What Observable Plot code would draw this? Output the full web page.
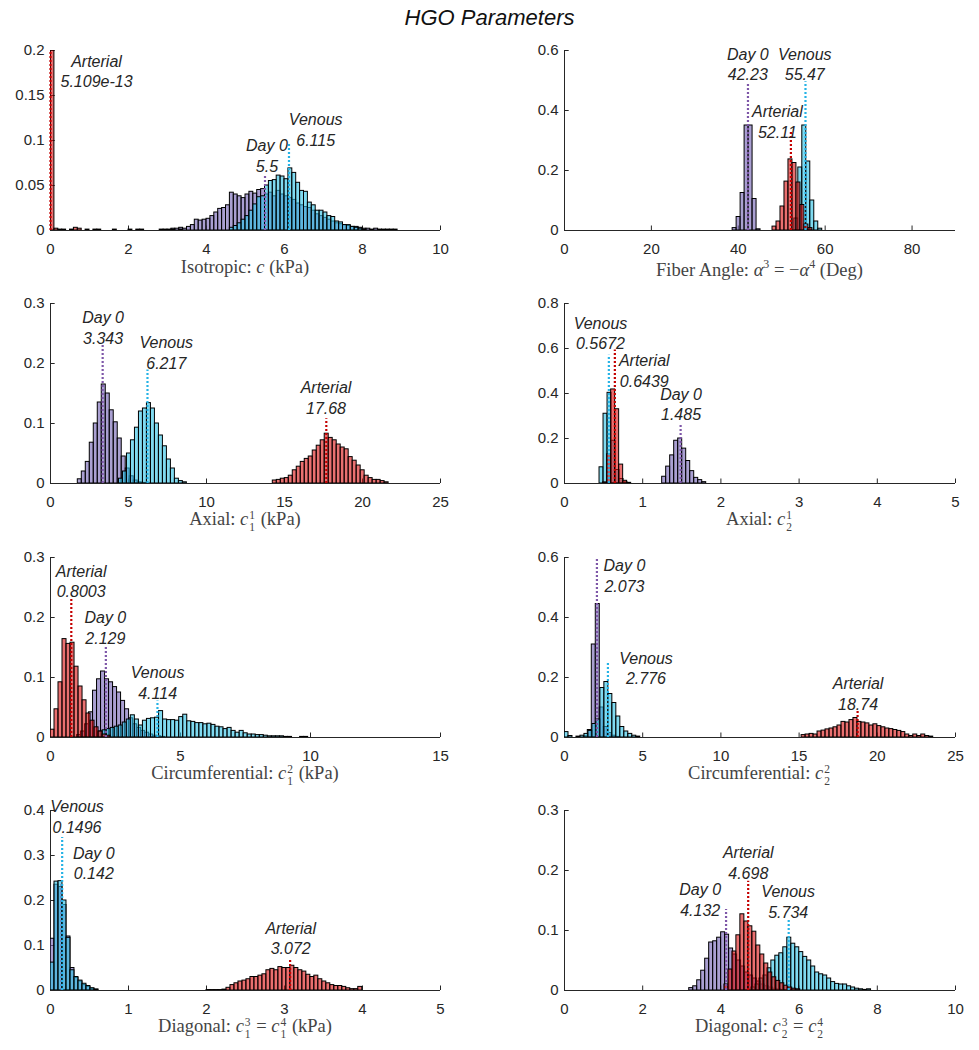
<!DOCTYPE html>
<html><head><meta charset="utf-8">
<script src="https://cdn.jsdelivr.net/npm/d3@7"></script>
<script src="https://cdn.jsdelivr.net/npm/@observablehq/plot@0.6"></script>
<style>
body{margin:0;background:#fff;}
#wrap{position:relative;width:979px;height:1050px;overflow:hidden;background:#fff;}
.title{position:absolute;left:0;width:979px;top:5px;line-height:26px;text-align:center;font:italic 22px "Liberation Sans",Arial,sans-serif;color:#111;}
.panel{position:absolute;}
.xlab{position:absolute;transform:translate(-50%,-50%);font-family:"Liberation Serif","DejaVu Serif",serif;font-size:18.5px;line-height:22px;color:#444;white-space:nowrap;}
.ss{display:inline-flex;flex-direction:column;align-items:flex-start;font-size:11.5px;line-height:12px;vertical-align:6px;margin-left:1px;margin-right:1px;}
.ss span{display:block;height:12px;}
</style></head><body>
<div id="wrap"><div class="title">HGO Parameters</div></div>
<script>
// ---------- DATA (heights = probability per bin; edge = [first bin edge, bin width]) ----------
const seriesKeys = ["day0", "venous", "arterial"];
const seriesNames = ["Day 0", "Venous", "Arterial"];

// Panel 1: Isotropic c
const isoDay0 = [0.001,0.001,0.002,0.002,0.003,0.002,0.004,0.006,0.012,0.011,0.012,0.013,0.016,0.020,0.024,0.025,0.028,0.042,0.040,0.038,0.036,0.040,0.043,0.041,0.045,0.046,0.040,0.042,0.038,0.044,0.040,0.038,0.036,0.034,0.030,0.028,0.026,0.025,0.022,0.018,0.016,0.014,0.012,0.010,0.008,0.007,0.006,0.005,0.004,0.004,0.003,0.002,0.002,0.001,0.002,0.001,0.001,0.001,0.001,0.001];
const isoDay0Edge = [2.9, 0.1];
const isoVenous = [0.003,0.005,0.008,0.012,0.016,0.022,0.029,0.037,0.038,0.050,0.055,0.056,0.061,0.060,0.057,0.069,0.064,0.053,0.044,0.043,0.031,0.028,0.022,0.022,0.020,0.016,0.015,0.010,0.009,0.006,0.006,0.004,0.003,0.002,0.001];
const isoVenousEdge = [4.6, 0.1];
const isoArterial = [0.2,0.002,0.001,0.001,0,0.001,0.003,0.002,0,0.001,0,0.001,0.001,0,0,0,0.001,0,0,0,0.001,0,0.001,0.001,0,0,0,0,0.001,0,0,0.001,0,0.001];
const isoArterialEdge = [0, 0.1];
const isoMedian = [5.5, 6.115, 5.109e-13];
const isoXTicks = [0, 2, 4, 6, 8, 10];
const isoYTicks = [0, 0.05, 0.1, 0.15, 0.2];

// Panel 2: Fiber angle
const fibDay0 = [0.008,0.045,0.125,0.35,0.35,0.105,0.004];
const fibDay0Edge = [38.7, 0.918];
const fibVenous = [0.04,0.21,0.35,0.23,0.10,0.03,0.006];
const fibVenousEdge = [52.9, 0.918];
const fibArterial = [0.013,0.03,0.08,0.163,0.237,0.225,0.16,0.085,0.02,0.008];
const fibArterialEdge = [47.88, 0.918];
const fibMedian = [42.23, 55.47, 52.11];
const fibXTicks = [0, 20, 40, 60, 80];
const fibYTicks = [0, 0.2, 0.4, 0.6];

// Panel 3: Axial c1^1
const ax1Day0 = [0.007,0.020,0.036,0.068,0.100,0.135,0.165,0.150,0.122,0.102,0.075,0.045,0.025,0.012,0.005,0.002,0.001];
const ax1Day0Edge = [1.75, 0.256];
const ax1Venous = [0.008,0.02,0.05,0.072,0.093,0.12,0.125,0.134,0.125,0.1,0.08,0.062,0.04,0.025,0.008,0.004,0.002];
const ax1VenousEdge = [4.39, 0.256];
const ax1Arterial = [0.005,0.006,0.008,0.009,0.013,0.022,0.028,0.036,0.041,0.045,0.055,0.063,0.072,0.083,0.076,0.072,0.065,0.060,0.057,0.044,0.038,0.030,0.022,0.013,0.009,0.006,0.006,0.004,0.002];
const ax1ArterialEdge = [14.25, 0.256];
const ax1Median = [3.343, 6.217, 17.68];
const ax1XTicks = [0, 5, 10, 15, 20, 25];
const ax1YTicks = [0, 0.1, 0.2, 0.3];

// Panel 4: Axial c2^1
const ax2Day0 = [0.03,0.075,0.125,0.19,0.2,0.155,0.1,0.055,0.025,0.015,0.006];
const ax2Day0Edge = [1.249, 0.0512];
const ax2Venous = [0.072,0.31,0.403,0.19,0.06,0.02,0.005];
const ax2VenousEdge = [0.448, 0.0512];
const ax2Arterial = [0.005,0.13,0.418,0.33,0.084,0.012,0.003];
const ax2ArterialEdge = [0.494, 0.0512];
const ax2Median = [1.485, 0.5672, 0.6439];
const ax2XTicks = [0, 1, 2, 3, 4, 5];
const ax2YTicks = [0, 0.2, 0.4, 0.6, 0.8];

// Panel 5: Circumferential c1^2
const cir1Day0 = [0.004,0.01,0.022,0.042,0.078,0.097,0.110,0.097,0.092,0.084,0.075,0.061,0.047,0.032,0.022,0.016,0.011,0.008,0.005,0.003,0.002,0.001];
const cir1Day0Edge = [1.02, 0.154];
const cir1Venous = [0.010,0.012,0.014,0.016,0.018,0.020,0.025,0.030,0.037,0.030,0.020,0.028,0.031,0.032,0.033,0.044,0.030,0.029,0.029,0.028,0.034,0.038,0.027,0.026,0.024,0.024,0.022,0.023,0.021,0.018,0.017,0.014,0.016,0.011,0.008,0.011,0.007,0.005,0.005,0.004,0.004,0.003,0.002,0.002,0.002,0.002,0.001,0.001,0,0,0.001,0.001];
const cir1VenousEdge = [1.85, 0.155];
const cir1Arterial = [0.013,0.047,0.092,0.164,0.156,0.158,0.118,0.085,0.062,0.04,0.028,0.017,0.01,0.005,0.003];
const cir1ArterialEdge = [0, 0.154];
const cir1Median = [2.129, 4.114, 0.8003];
const cir1XTicks = [0, 5, 10, 15];
const cir1YTicks = [0, 0.1, 0.2, 0.3];

// Panel 6: Circumferential c2^2
const cir2Day0 = [0.004,0.025,0.31,0.445,0.1,0.035,0.015,0.006,0.002];
const cir2Day0Edge = [1.235, 0.255];
const cir2Venous = [0.018,0.005,0,0.003,0.006,0.012,0.022,0.045,0.06,0.165,0.185,0.145,0.115,0.07,0.035,0.02,0.012,0.006,0.003];
const cir2VenousEdge = [0, 0.2549];
const cir2Arterial = [0.008,0.01,0.012,0.01,0.02,0.023,0.027,0.03,0.034,0.04,0.052,0.05,0.058,0.065,0.052,0.05,0.047,0.04,0.044,0.038,0.034,0.03,0.028,0.025,0.022,0.018,0.01,0.005,0.01,0.005,0.01,0.005,0.003];
const cir2ArterialEdge = [15.16, 0.255];
const cir2Median = [2.073, 2.776, 18.74];
const cir2XTicks = [0, 5, 10, 15, 20, 25];
const cir2YTicks = [0, 0.2, 0.4, 0.6];

// Panel 7: Diagonal c1^3 = c1^4
const dia1Day0 = [0.115,0.235,0.23,0.19,0.12,0.05,0.028,0.02,0.012,0.008,0.004,0.002];
const dia1Day0Edge = [0, 0.0512];
const dia1Venous = [0.062,0.242,0.243,0.2,0.117,0.045,0.03,0.022,0.015,0.01,0.005,0.002];
const dia1VenousEdge = [0, 0.0512];
const dia1Arterial = [0.001,0.001,0.001,0.001,0.002,0.006,0.012,0.016,0.02,0.022,0.025,0.03,0.03,0.033,0.036,0.045,0.048,0.045,0.052,0.05,0.05,0.055,0.05,0.045,0.042,0.035,0.03,0.033,0.025,0.02,0.016,0.012,0.01,0.01,0.008,0.005,0.003,0.003,0.008];
const dia1ArterialEdge = [2.0, 0.0512];
const dia1Median = [0.142, 0.1496, 3.072];
const dia1XTicks = [0, 1, 2, 3, 4, 5];
const dia1YTicks = [0, 0.1, 0.2, 0.3, 0.4];

// Panel 8: Diagonal c2^3 = c2^4
const dia2Day0 = [0.004,0.007,0.017,0.033,0.053,0.08,0.082,0.088,0.097,0.093,0.07,0.06,0.05,0.04,0.03,0.025,0.02,0.015,0.01,0.007,0.005,0.003,0.002,0.001];
const dia2Day0Edge = [3.19, 0.102];
const dia2Venous = [0.005,0.01,0.02,0.025,0.037,0.05,0.058,0.062,0.072,0.088,0.078,0.072,0.064,0.056,0.05,0.04,0.03,0.027,0.025,0.02,0.014,0.011,0.01,0.01,0.007,0.005,0.003,0.002,0.001,0.002];
const dia2VenousEdge = [4.78, 0.102];
const dia2Arterial = [0.01,0.035,0.065,0.092,0.127,0.115,0.107,0.098,0.075,0.06,0.045,0.03,0.022,0.016,0.012,0.008,0.005,0.003,0.002];
const dia2ArterialEdge = [4.09, 0.102];
const dia2Median = [4.132, 5.734, 4.698];
const dia2XTicks = [0, 2, 4, 6, 8, 10];
const dia2YTicks = [0, 0.1, 0.2, 0.3];

// ---------- LAYOUT / ANNOTATION (order: Day 0, Venous, Arterial) ----------
const ss = (sup, sub) => `<span class="ss"><span>${sup}</span><span>${sub}</span></span>`;
const panels = [
  {row:0,col:0,x:[0,10],y:[0,0.2],xt:isoXTicks,yt:isoYTicks,h:[isoDay0,isoVenous,isoArterial],e:[isoDay0Edge,isoVenousEdge,isoArterialEdge],m:isoMedian,
   top:[0.06,0.096,0.2],lx:[5.55,6.8,1.18],ly:[0.084,0.113,0.178],lab:`Isotropic: <i>c</i> (kPa)`},
  {row:0,col:1,x:[0,90],y:[0,0.6],xt:fibXTicks,yt:fibYTicks,h:[fibDay0,fibVenous,fibArterial],e:[fibDay0Edge,fibVenousEdge,fibArterialEdge],m:fibMedian,
   top:[0.493,0.496,0.332],lx:[42.2,55.3,49.0],ly:[0.557,0.557,0.366],lab:`Fiber Angle: <i>α</i><sup style="font-size:12px">3</sup> = −<i>α</i><sup style="font-size:12px">4</sup> (Deg)`},
  {row:1,col:0,x:[0,25],y:[0,0.3],xt:ax1XTicks,yt:ax1YTicks,h:[ax1Day0,ax1Venous,ax1Arterial],e:[ax1Day0Edge,ax1VenousEdge,ax1ArterialEdge],m:ax1Median,
   top:[0.23,0.189,0.108],lx:[3.37,7.42,17.66],ly:[0.261,0.22,0.144],lab:`Axial: <i>c</i>${ss(1,1)} (kPa)`},
  {row:1,col:1,x:[0,5],y:[0,0.8],xt:ax2XTicks,yt:ax2YTicks,h:[ax2Day0,ax2Venous,ax2Arterial],e:[ax2Day0Edge,ax2VenousEdge,ax2ArterialEdge],m:ax2Median,
   top:[0.267,0.57,0.593],lx:[1.49,0.46,1.02],ly:[0.356,0.672,0.505],lab:`Axial: <i>c</i>${ss(1,2)}`},
  {row:2,col:0,x:[0,15],y:[0,0.3],xt:cir1XTicks,yt:cir1YTicks,h:[cir1Day0,cir1Venous,cir1Arterial],e:[cir1Day0Edge,cir1VenousEdge,cir1ArterialEdge],m:cir1Median,
   top:[0.151,0.061,0.233],lx:[2.11,4.12,1.18],ly:[0.184,0.093,0.262],lab:`Circumferential: <i>c</i>${ss(2,1)} (kPa)`},
  {row:2,col:1,x:[0,25],y:[0,0.6],xt:cir2XTicks,yt:cir2YTicks,h:[cir2Day0,cir2Venous,cir2Arterial],e:[cir2Day0Edge,cir2VenousEdge,cir2ArterialEdge],m:cir2Median,
   top:[0.594,0.253,0.089],lx:[3.83,5.21,18.77],ly:[0.542,0.234,0.149],lab:`Circumferential: <i>c</i>${ss(2,2)}`},
  {row:3,col:0,x:[0,5],y:[0,0.4],xt:dia1XTicks,yt:dia1YTicks,h:[dia1Day0,dia1Venous,dia1Arterial],e:[dia1Day0Edge,dia1VenousEdge,dia1ArterialEdge],m:dia1Median,
   top:[0.24,0.34,0.069],lx:[0.555,0.34,3.08],ly:[0.285,0.388,0.118],lab:`Diagonal: <i>c</i>${ss(3,1)} = <i>c</i>${ss(4,1)} (kPa)`},
  {row:3,col:1,x:[0,10],y:[0,0.3],xt:dia2XTicks,yt:dia2YTicks,h:[dia2Day0,dia2Venous,dia2Arterial],e:[dia2Day0Edge,dia2VenousEdge,dia2ArterialEdge],m:dia2Median,
   top:[0.135,0.118,0.182],lx:[3.47,5.72,4.70],ly:[0.1525,0.15,0.214],lab:`Diagonal: <i>c</i>${ss(3,2)} = <i>c</i>${ss(4,2)}`}
];

// ---------- STYLE ----------
const fills = ["#7161b4", "#2bc1e6", "#dc1010"];
const lineColors = ["#7e57a8", "#26b3e6", "#c40000"];
const rowTops = [30, 283, 537, 790];
const colGeom = [{left:0,width:490,ml:50,mr:50},{left:490,width:489,ml:74,mr:24}];
const axisColor = "#262626";

function fmt(v) {
  let s = v.toPrecision(4);
  if (s.includes("e")) return s;
  if (s.includes(".")) s = s.replace(/0+$/, "").replace(/\.$/, "");
  return s;
}
function bars(heights, edge) {
  const [start, w] = edge;
  return heights.map((h, i) => ({x1: start + i * w, x2: start + (i + 1) * w, h})).filter(d => d.h > 0);
}

const wrap = document.getElementById("wrap");
for (const p of panels) {
  const g = colGeom[p.col];
  const [x0, x1] = p.x, [y0, y1] = p.y;
  const ann = [0, 1, 2].map(i => ({i, m: p.m[i], top: p.top[i], lx: p.lx[i], ly: p.ly[i], txt: seriesNames[i] + "\n" + fmt(p.m[i])}));
  const marks = [
    Plot.ruleY([y0], {stroke: axisColor, strokeWidth: 1}),
    Plot.ruleX([x0], {stroke: axisColor, strokeWidth: 1}),
    Plot.ruleX(p.xt, {x: d => d, y1: y0, y2: y0 + (y1 - y0) * 0.025, stroke: axisColor}),
    Plot.ruleY(p.yt, {y: d => d, x1: x0, x2: x0 + (x1 - x0) * 0.012, stroke: axisColor})
  ];
  for (let i = 0; i < 3; i++) {
    marks.push(Plot.rect(bars(p.h[i], p.e[i]), {x1: "x1", x2: "x2", y1: 0, y2: "h", fill: fills[i], fillOpacity: 0.6, stroke: "#000", strokeWidth: 1, clip: true}));
  }
  marks.push(Plot.ruleX(ann, {x: "m", y1: 0, y2: "top", stroke: d => lineColors[d.i], strokeWidth: 2.2, strokeDasharray: "2,2"}));
  marks.push(Plot.text(ann, {x: "lx", y: "ly", text: "txt", lineAnchor: "middle", lineHeight: 1.3, fontSize: 16, fontStyle: "italic", fill: "#262626", textAnchor: "middle"}));

  const chart = Plot.plot({
    width: g.width, height: 230,
    marginLeft: g.ml, marginRight: g.mr, marginTop: 20, marginBottom: 30,
    style: {fontFamily: '"Liberation Sans", Arial, sans-serif', fontSize: "15px", color: axisColor, background: "transparent", overflow: "visible"},
    x: {domain: p.x, ticks: p.xt, tickSize: 0, tickPadding: 13, tickFormat: d => String(d), label: null},
    y: {domain: p.y, ticks: p.yt, tickSize: 0, tickPadding: 6, tickFormat: d => String(d), label: null},
    marks
  });
  const div = document.createElement("div");
  div.className = "panel";
  div.style.left = g.left + "px";
  div.style.top = rowTops[p.row] + "px";
  div.appendChild(chart);
  wrap.appendChild(div);

  const lab = document.createElement("div");
  lab.className = "xlab";
  lab.innerHTML = p.lab;
  lab.style.left = (g.left + g.ml + (g.width - g.ml - g.mr) / 2) + "px";
  lab.style.top = (rowTops[p.row] + 20 + 217) + "px";
  wrap.appendChild(lab);
}
</script>
</body></html>
